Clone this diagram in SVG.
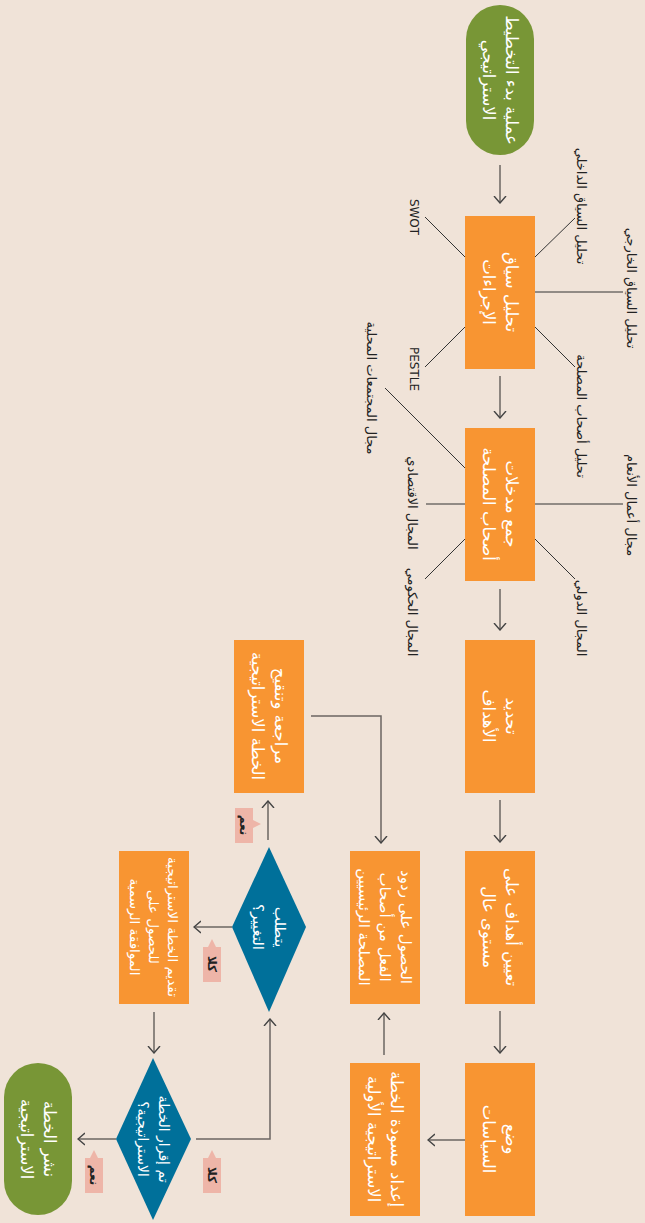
<svg xmlns="http://www.w3.org/2000/svg" width="645" height="1223" viewBox="0 0 645 1223">
<style>
.bg{fill:#f0e3d8}
.proc{fill:#f89532}
.term{fill:#789636}
.dec{fill:#00709a}
.tag{fill:#eeb5a8}
.bt{font-family:"DejaVu Sans",sans-serif;font-size:16.5px;fill:#ffffff;text-anchor:middle;direction:rtl}
.lt{font-family:"DejaVu Sans",sans-serif;font-size:13px;fill:#222222;text-anchor:middle;direction:rtl}
.tt{font-family:"DejaVu Sans",sans-serif;font-size:12px;font-weight:bold;fill:#222222;text-anchor:middle;direction:rtl}
.flow{fill:none;stroke:#6b6662;stroke-width:1.5}
.spoke{fill:none;stroke:#333333;stroke-width:1}
</style>
<defs>
<marker id="ah" viewBox="0 0 8 14" refX="7" refY="7" markerWidth="8" markerHeight="14" markerUnits="userSpaceOnUse" orient="auto">
<path d="M0,1 L7,7 L0,13" fill="none" stroke="#444" stroke-width="1.4"/>
</marker>
</defs>
<rect class="bg" x="0" y="0" width="645" height="1223"/>

<g id="connectors">
<line class="flow" x1="500" y1="165" x2="500" y2="203" marker-end="url(#ah)"/>
<line class="flow" x1="500" y1="376" x2="500" y2="418" marker-end="url(#ah)"/>
<line class="flow" x1="500" y1="589" x2="500" y2="630" marker-end="url(#ah)"/>
<line class="flow" x1="500" y1="800" x2="500" y2="842" marker-end="url(#ah)"/>
<line class="flow" x1="500" y1="1011" x2="500" y2="1053" marker-end="url(#ah)"/>
<line class="flow" x1="465" y1="1140" x2="428" y2="1140" marker-end="url(#ah)"/>
<line class="flow" x1="384" y1="1055" x2="384" y2="1013" marker-end="url(#ah)"/>
<polyline class="flow" points="311,716 381,716 381,843" marker-end="url(#ah)"/>
<line class="flow" x1="268" y1="840" x2="268" y2="801" marker-end="url(#ah)"/>
<line class="flow" x1="232" y1="927" x2="194" y2="927" marker-end="url(#ah)"/>
<line class="flow" x1="154" y1="1012" x2="154" y2="1053" marker-end="url(#ah)"/>
<polyline class="flow" points="196,1139 270,1139 270,1019" marker-end="url(#ah)"/>
<line class="flow" x1="116" y1="1139" x2="78" y2="1139" marker-end="url(#ah)"/>
<line class="spoke" x1="535" y1="257" x2="575" y2="218"/>
<line class="spoke" x1="535" y1="292" x2="623" y2="292"/>
<line class="spoke" x1="535" y1="327" x2="575" y2="367"/>
<line class="spoke" x1="465" y1="257" x2="425" y2="217"/>
<line class="spoke" x1="465" y1="327" x2="425" y2="367"/>
<line class="spoke" x1="385" y1="388" x2="465" y2="468"/>
<line class="spoke" x1="535" y1="504" x2="623" y2="504"/>
<line class="spoke" x1="535" y1="539" x2="575" y2="579"/>
<line class="spoke" x1="465" y1="504" x2="426" y2="504"/>
<line class="spoke" x1="465" y1="539" x2="425" y2="579"/>
</g>

<g id="labels">
<text class="lt" transform="translate(581,206) rotate(90)" y="4">تحليل السياق الداخلي</text>
<text class="lt" transform="translate(631,288) rotate(90)" y="4">تحليل السياق الخارجي</text>
<text class="lt" transform="translate(581,416) rotate(90)" y="4">تحليل أصحاب المصلحة</text>
<text class="lt" transform="translate(414,217) rotate(90)" y="4" style="direction:ltr;font-size:12px">SWOT</text>
<text class="lt" transform="translate(414,369) rotate(90)" y="4" style="direction:ltr;font-size:12px">PESTLE</text>
<text class="lt" transform="translate(371,388) rotate(90)" y="4">مجال المجتمعات المحلية</text>
<text class="lt" transform="translate(631,505) rotate(90)" y="4">مجال أعمال الأنعام</text>
<text class="lt" transform="translate(581,618) rotate(90)" y="4">المجال الدولي</text>
<text class="lt" transform="translate(412,503) rotate(90)" y="4">المجال الاقتصادي</text>
<text class="lt" transform="translate(412,612) rotate(90)" y="4">المجال الحكومي</text>
</g>

<g id="start">
<rect class="term" x="466" y="5" width="68" height="150" rx="34"/>
<text class="bt" transform="translate(500,80) rotate(90)"><tspan x="0" y="-6">عملية بدء التخطيط</tspan><tspan x="0" y="17">الاستراتيجي</tspan></text>
</g>
<g id="box1">
<rect class="proc" x="465" y="216" width="70" height="153"/>
<text class="bt" transform="translate(500,292) rotate(90)"><tspan x="0" y="-6">تحليل سياق</tspan><tspan x="0" y="17">الإجراءات</tspan></text>
</g>
<g id="box2">
<rect class="proc" x="465" y="428" width="70" height="153"/>
<text class="bt" transform="translate(500,504) rotate(90)"><tspan x="0" y="-6">جمع مدخلات</tspan><tspan x="0" y="17">أصحاب المصلحة</tspan></text>
</g>
<g id="box3">
<rect class="proc" x="465" y="640" width="70" height="153"/>
<text class="bt" transform="translate(500,716) rotate(90)"><tspan x="0" y="-6">تحديد</tspan><tspan x="0" y="17">الأهداف</tspan></text>
</g>
<g id="box4">
<rect class="proc" x="465" y="851" width="70" height="153"/>
<text class="bt" transform="translate(500,927) rotate(90)"><tspan x="0" y="-6">تعيين أهداف على</tspan><tspan x="0" y="17">مستوى عال</tspan></text>
</g>
<g id="box5">
<rect class="proc" x="465" y="1063" width="70" height="153"/>
<text class="bt" transform="translate(500,1139) rotate(90)"><tspan x="0" y="-6">وضع</tspan><tspan x="0" y="17">السياسات</tspan></text>
</g>
<g id="box6">
<rect class="proc" x="350" y="1063" width="70" height="153"/>
<text class="bt" transform="translate(385,1139) rotate(90)"><tspan x="0" y="-6">إعداد مسودة الخطة</tspan><tspan x="0" y="17">الاستراتيجية الأولية</tspan></text>
</g>
<g id="box7">
<rect class="proc" x="350" y="851" width="70" height="153"/>
<text class="bt" transform="translate(385,927) rotate(90)" style="font-size:15px"><tspan x="0" y="-16">الحصول على ردود</tspan><tspan x="0" y="5">الفعل من أصحاب</tspan><tspan x="0" y="26">المصلحة الرئيسيين</tspan></text>
</g>
<g id="box8">
<rect class="proc" x="234" y="640" width="70" height="153"/>
<text class="bt" transform="translate(269,716) rotate(90)"><tspan x="0" y="-6">مراجعة وتنقيح</tspan><tspan x="0" y="17">الخطة الاستراتيجية</tspan></text>
</g>
<g id="box9">
<rect class="proc" x="119" y="851" width="70" height="153"/>
<text class="bt" transform="translate(154,927) rotate(90)" style="font-size:13.5px"><tspan x="0" y="-14">تقديم الخطة الاستراتيجية</tspan><tspan x="0" y="5">للحصول على</tspan><tspan x="0" y="24">الموافقة الرسمية</tspan></text>
</g>
<g id="decision1">
<polygon class="dec" points="269,847 306,927 269,1012 232,927"/>
<text class="bt" transform="translate(269,927) rotate(90)" style="font-size:15px"><tspan x="0" y="-6">يتطلب</tspan><tspan x="0" y="16">التغيير؟</tspan></text>
</g>
<g id="decision2">
<polygon class="dec" points="153,1058 191,1139 153,1220 116,1139"/>
<text class="bt" transform="translate(153,1139) rotate(90)" style="font-size:14px"><tspan x="0" y="-6">تم إقرار الخطة</tspan><tspan x="0" y="15">الاستراتيجية؟</tspan></text>
</g>
<g id="end">
<rect class="term" x="4" y="1063" width="68" height="152" rx="34"/>
<text class="bt" transform="translate(38,1139) rotate(90)"><tspan x="0" y="-6">نشر الخطة</tspan><tspan x="0" y="17">الاستراتيجية</tspan></text>
</g>

<g id="tag-yes1">
<rect class="tag" x="235" y="808" width="18" height="35"/>
<polygon class="tag" points="253,820 261,824 253,828"/>
<text class="tt" transform="translate(244,825) rotate(90)" y="4">نعم</text>
</g>
<g id="tag-no1">
<rect class="tag" x="203" y="947" width="18" height="35"/>
<polygon class="tag" points="208,947 212,939 216,947"/>
<text class="tt" transform="translate(212,964) rotate(90)" y="4">كلا</text>
</g>
<g id="tag-no2">
<rect class="tag" x="203" y="1158" width="18" height="35"/>
<polygon class="tag" points="208,1158 212,1150 216,1158"/>
<text class="tt" transform="translate(212,1175) rotate(90)" y="4">كلا</text>
</g>
<g id="tag-yes2">
<rect class="tag" x="85" y="1158" width="18" height="35"/>
<polygon class="tag" points="90,1158 94,1150 98,1158"/>
<text class="tt" transform="translate(94,1175) rotate(90)" y="4">نعم</text>
</g>
</svg>
